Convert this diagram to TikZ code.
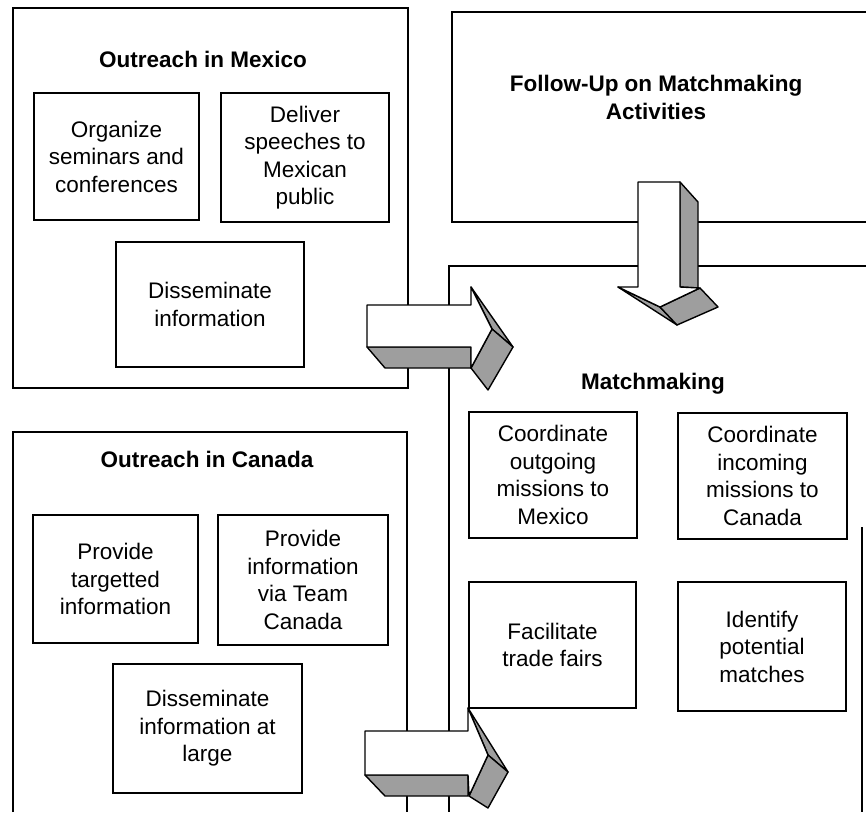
\documentclass[tikz,border=0pt]{standalone}
\usepackage{fontspec}
\setmainfont{Liberation Sans}
\begin{document}
\begin{tikzpicture}[x=1pt,y=-1pt,
  frame/.style={line width=1.5pt},
  task/.style={draw,line width=1.5pt,align=center,inner sep=0pt,
    font=\fontsize{22.5}{27.5}\selectfont},
  title/.style={font=\bfseries\fontsize{22.5}{27.5}\selectfont,align=center,inner sep=0pt},
  front/.style={draw,line width=1.4pt,line join=round,fill=white},
  side/.style={draw,line width=1.4pt,line join=round,fill=black!38},
]
\useasboundingbox (0,0) rectangle (866,812);

% ---- large frames ----
\draw[frame] (13,8) rectangle (408,388);                    % Mexico
\draw[frame] (866,12) -- (452,12) -- (452,222) -- (866,222); % follow-up
\draw[frame] (866,266) -- (449,266) -- (449,812);            % matchmaking
\draw[frame] (862,527) -- (862,812);
\draw[frame] (13,812) -- (13,432) -- (407,432) -- (407,812); % Canada

% ---- titles ----
\node[title,anchor=base] (tMx) at (203,67) {Outreach in Mexico};
\node[title] (tFol) at (656,97.5) {Follow-Up on Matchmaking\\Activities};
\node[title,anchor=base] (tMatch) at (653,389) {Matchmaking};
\node[title,anchor=base] (tCa) at (207,467) {Outreach in Canada};

% ---- Mexico tasks ----
\node[task,minimum width=165pt,minimum height=127pt] (org) at (116.5,156.5)
  {Organize\\seminars and\\conferences};
\node[task,minimum width=168pt,minimum height=129pt] (speech) at (305,157.5)
  {Deliver\\speeches to\\Mexican\\public};
\node[task,minimum width=188pt,minimum height=125pt] (dissMx) at (210,304.5)
  {Disseminate\\information};

% ---- Canada tasks ----
\node[task,minimum width=165pt,minimum height=128pt] (targ) at (115.5,579)
  {Provide\\targetted\\information};
\node[task,minimum width=170pt,minimum height=130pt] (team) at (303,580)
  {Provide\\information\\via Team\\Canada};
\node[task,minimum width=189pt,minimum height=129pt] (dissCa) at (207.5,728.5)
  {Disseminate\\information at\\large};

% ---- Matchmaking tasks ----
\node[task,minimum width=168pt,minimum height=126pt] (outg) at (553,475)
  {Coordinate\\outgoing\\missions to\\Mexico};
\node[task,minimum width=169pt,minimum height=126pt] (inc) at (762.5,476)
  {Coordinate\\incoming\\missions to\\Canada};
\node[task,minimum width=167pt,minimum height=126pt] (fair) at (552.5,645)
  {Facilitate\\trade fairs};
\node[task,minimum width=168pt,minimum height=129pt] (ident) at (762,646.5)
  {Identify\\potential\\matches};

% ---- block arrow: Mexico -> Matchmaking ----
\draw[side] (367,347) -- (471,347) -- (471,368) -- (385,368) -- cycle;
\draw[side] (471,287) -- (513,347) -- (492,329) -- cycle;
\draw[side] (492,329) -- (513,347) -- (488,390) -- (471,368) -- cycle;
\draw[front] (367,305) -- (471,305) -- (471,287) -- (492,329) -- (471,368)
  -- (471,347) -- (367,347) -- cycle;

% ---- block arrow: Canada -> Matchmaking ----
\draw[side] (365,775) -- (468,775) -- (468,796) -- (385,796) -- cycle;
\draw[side] (468,708) -- (508,772) -- (488,755) -- cycle;
\draw[side] (488,755) -- (508,772) -- (488,808) -- (469,796) -- cycle;
\draw[front] (365,731) -- (468,731) -- (468,708) -- (488,755) -- (469,796)
  -- (468,775) -- (365,775) -- cycle;

% ---- block arrow: Follow-up -> Matchmaking ----
\draw[side] (680,182) -- (698,202) -- (698,288) -- (680,287) -- cycle;
\draw[side] (618,287) -- (660,307) -- (677,325) -- cycle;
\draw[side] (660,307) -- (700,288) -- (718,307) -- (677,325) -- cycle;
\draw[front] (638,182) -- (680,182) -- (680,287) -- (700,288) -- (660,307)
  -- (618,287) -- (638,287) -- cycle;
\end{tikzpicture}
\end{document}
